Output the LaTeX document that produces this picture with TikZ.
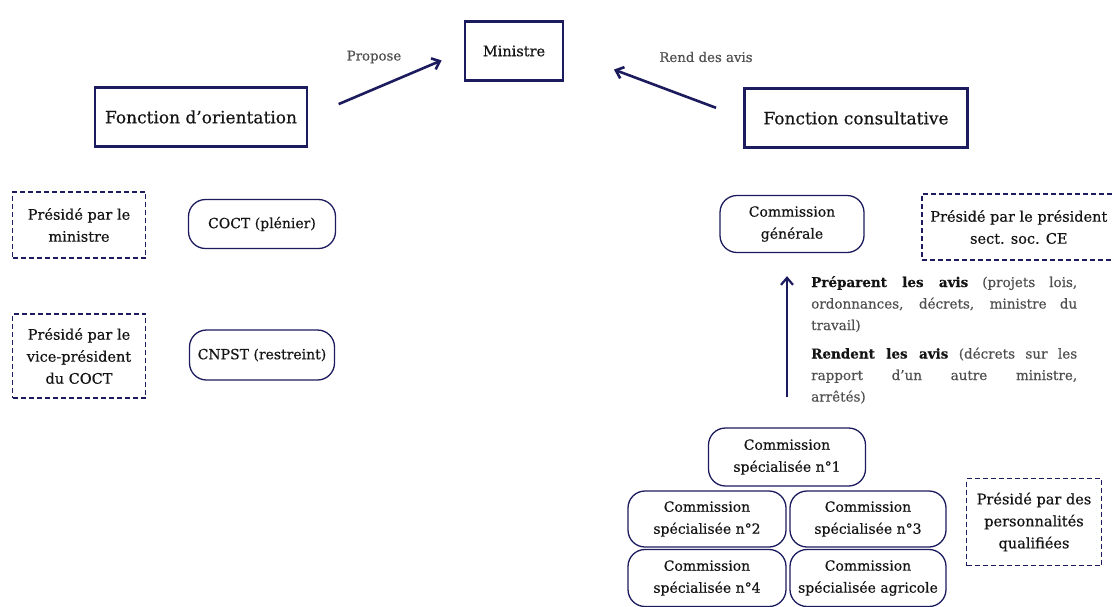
\documentclass[tikz,border=0pt]{standalone}
\usepackage{fontspec}
\setmainfont{DejaVu Serif}[FakeBold=0.5]
\usetikzlibrary{arrows.meta}
\definecolor{navy}{HTML}{1B1B5E}
\definecolor{ink}{HTML}{141414}
\definecolor{greytext}{HTML}{505050}

\begin{document}
\begin{tikzpicture}[x=1pt,y=-1pt,
  mainbox/.style={draw=navy,line width=2.6pt,text=ink,minimum height=59pt,
    font=\fontsize{17}{20}\selectfont},
  bodybox/.style={draw=navy,line width=1.3pt,rounded corners=17pt,text=ink,
    align=center,inner sep=1pt,font=\fontsize{14}{22}\selectfont},
  chairbox/.style={draw=navy,line width=1.6pt,dash pattern=on 5pt off 3pt,
    text=ink,align=center,inner sep=1pt,font=\fontsize{14.5}{22}\selectfont},
  link/.style={navy,line width=2.6pt,-{Straight Barb[length=7pt,width=12pt]}},
  verb/.style={text=greytext,font=\fontsize{13.3}{16}\selectfont}
]
\useasboundingbox (0,0) rectangle (1114,606);

% top level
\node[mainbox,minimum width=98pt,font=\fontsize{14.5}{18}\selectfont] (minister) at (514,51) {Ministre};
\node[mainbox,minimum width=212pt] (orient) at (201,117) {Fonction d'orientation};
\node[mainbox,minimum width=223pt] (consult) at (856,118) {Fonction consultative};
\draw[link,shorten <=33pt,shorten >=24pt] (orient.east) -- (minister.west);
\draw[link,shorten <=29pt,shorten >=53pt] (consult.west) -- (minister.east);
\node[verb] (propose) at (374,57) {Propose};
\node[verb] (avis) at (706,57) {Rend des avis};

% orientation side
\node[chairbox,minimum width=133pt,minimum height=66pt] (chair1) at (79,225)
  {Présidé par le\\ministre};
\node[bodybox,minimum width=147pt,minimum height=49pt] (coct) at (262,224)
  {COCT (plénier)};
\node[chairbox,minimum width=133pt,minimum height=84pt] (chair2) at (79,356)
  {Présidé par le\\vice-président\\du COCT};
\node[bodybox,minimum width=145pt,minimum height=50pt] (cnpst) at (262,355)
  {CNPST (restreint)};

% consultative side
\node[bodybox,minimum width=144pt,minimum height=57pt] (generale) at (792,224)
  {Commission\\générale};
\node[chairbox,minimum width=194pt,minimum height=66pt,anchor=west] (chair3) at (921,227)
  {Présidé par le président\\sect. soc. CE};
\node[bodybox,minimum width=157pt,minimum height=58pt] (spec1) at (787,457)
  {Commission\\spécialisée n°1};
\node[bodybox,minimum width=158pt,minimum height=56pt] (spec2) at (707,519)
  {Commission\\spécialisée n°2};
\node[bodybox,minimum width=156pt,minimum height=56pt] (spec3) at (868,519)
  {Commission\\spécialisée n°3};
\node[bodybox,minimum width=158pt,minimum height=57pt] (spec4) at (707,578)
  {Commission\\spécialisée n°4};
\node[bodybox,minimum width=156pt,minimum height=57pt] (specagri) at (868,578)
  {Commission\\spécialisée agricole};
\node[chairbox,minimum width=135pt,minimum height=87pt] (chair4) at (1034,522)
  {Présidé par des\\personnalités\\qualifiées};
\draw[link,line width=2.2pt,shorten <=30pt,shorten >=23pt] (spec1.north) -- (spec1.north |- generale.south);

\node[anchor=north west,text width=266pt,align=justify,inner sep=0pt,text=greytext,
  font=\fontsize{13.5}{21.5}\selectfont] (roles) at (811,276)
  {\textcolor{ink}{\textbf{Préparent les avis}} (projets lois,\linebreak
   ordonnances, décrets, ministre du\linebreak travail)\par\vspace{7pt}
   \textcolor{ink}{\textbf{Rendent les avis}} (décrets sur les\linebreak
   rapport d'un autre ministre,\linebreak arrêtés)};
\end{tikzpicture}
\end{document}
